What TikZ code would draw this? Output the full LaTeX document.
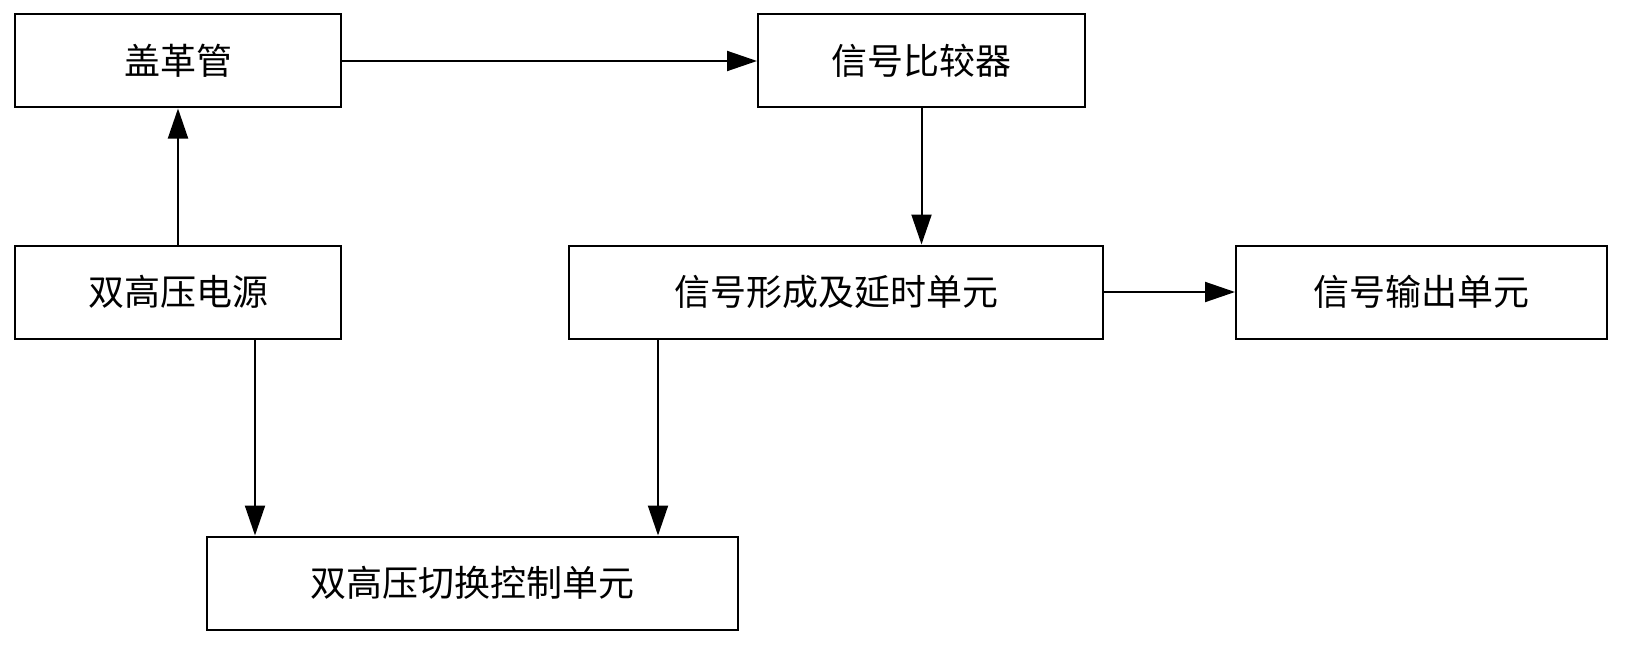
\documentclass[tikz,border=0pt]{standalone}
\usepackage{fontspec}
\setmainfont{Noto Sans CJK SC}
\usetikzlibrary{arrows.meta}

\tikzset{
    unit/.style={draw, line width=2pt, minimum height=93pt, inner sep=0pt,
        font=\fontsize{36}{40}\selectfont},
    flow/.style={line width=2pt, -{Triangle[length=30pt, width=20pt]}}
}

\begin{document}
\begin{tikzpicture}[x=1pt, y=-1pt]
    \useasboundingbox (0,0) rectangle (1648,650);

    \node[unit, minimum width=326pt] (tube) at (178,61) {盖革管};
    \node[unit, minimum width=327pt] (comp) at (921.5,61) {信号比较器};
    \node[unit, minimum width=326pt] (hv) at (178,292) {双高压电源};
    \node[unit, minimum width=534pt] (delay) at (836,292) {信号形成及延时单元};
    \node[unit, minimum width=371pt] (out) at (1421.5,292) {信号输出单元};
    \node[unit, minimum width=531pt] (switch) at (472.5,583) {双高压切换控制单元};

    \draw[flow] (hv.north) -- (tube.south);
    \draw[flow] (tube.east) -- (comp.west);
    \draw[flow] (comp.south) -- (delay.north -| comp.south);
    \draw[flow] (delay.east) -- (out.west);
    \draw[flow] (hv.south -| 255,0) -- (switch.north -| 255,0);
    \draw[flow] (delay.south -| 658,0) -- (switch.north -| 658,0);
\end{tikzpicture}
\end{document}
